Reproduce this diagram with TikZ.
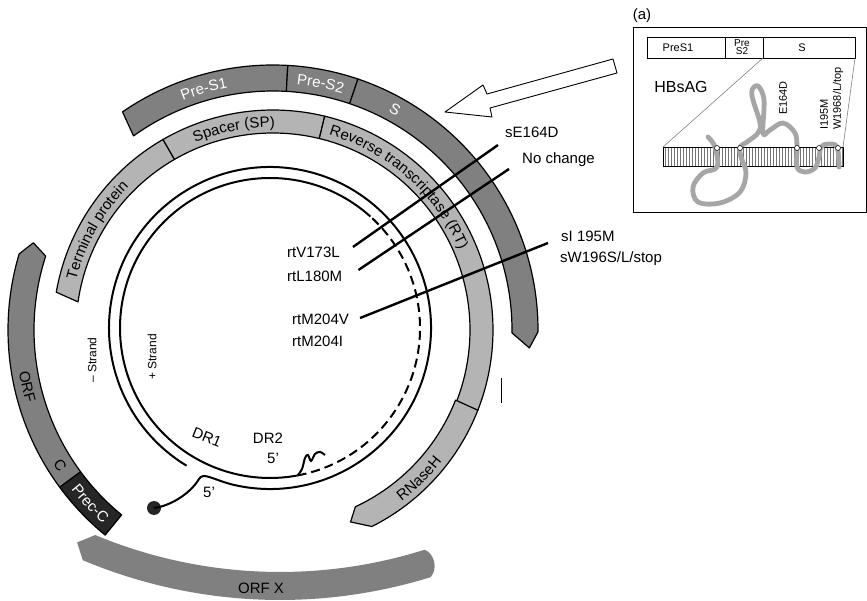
\documentclass[tikz,border=0pt]{standalone}
\usepackage{fontspec}
\setmainfont{Liberation Sans}
\usepackage{xcolor}
\definecolor{orfgray}{HTML}{808080}
\definecolor{polgray}{HTML}{B4B4B4}
\definecolor{chaingray}{HTML}{A6A6A6}
\definecolor{precblack}{HTML}{262626}
\usepackage{tikz}
\usetikzlibrary{calc, decorations.text}

\newcommand{\labfont}{\fontsize{15}{18}\selectfont}
\newcommand{\smallfont}{\fontsize{11}{12}\selectfont}

\begin{document}
\begin{tikzpicture}[x=1pt, y=1pt,
    band/.style={draw=black, line width=1.2pt, line join=round},
    strand/.style={line width=2pt},
    mutline/.style={line width=2.4pt},
    lab/.style={font=\labfont, inner sep=0pt},
    tiny/.style={font=\smallfont, inner sep=0pt},
    arctext/.style={decorate, decoration={text along path, text align=center, text color=#1}},
    arctext/.default=black,
    chain/.style={line width=4.8pt, chaingray, line cap=round, line join=round}]
  \useasboundingbox (0,0) rectangle (867,600);

  % ORF X
  \begin{scope}[shift={(280,509)}]
    \fill[orfgray] (247.4:481) arc[start angle=247.4, end angle=287.5, radius=481]
      .. controls (288.4:487) and (288.4:503) .. (287.2:509)
      arc[start angle=287.2, end angle=247.2, radius=509] -- (245.8:495) -- cycle;
  \end{scope}
  \node[lab] (orfx) at (261,12) {ORF X};

  % genes (outer ring) and polymerase domains (inner ring)
  \begin{scope}[shift={(273,270)}]
    % Pre-S1, Pre-S2, S
    \draw[band, fill=orfgray] (124.6:265) arc[start angle=124.6, end angle=86.8, radius=265]
      -- (86.8:239) arc[start angle=86.8, end angle=125.7, radius=239] -- cycle;
    \draw[band, fill=orfgray] (86.8:265) arc[start angle=86.8, end angle=71.3, radius=265]
      -- (71.3:239) arc[start angle=71.3, end angle=86.8, radius=239] -- cycle;
    \draw[band, fill=orfgray] (71.3:265) arc[start angle=71.3, end angle=-0.4, radius=265]
      -- (-4:257) -- (-0.7:239) arc[start angle=-0.7, end angle=71.3, radius=239] -- cycle;
    \path[arctext=white, decoration={text={|\labfont|Pre-S1}}] (125:246.5) arc[start angle=125, end angle=87, radius=246.5];
    \path[arctext=white, decoration={text={|\labfont|Pre-S2}}] (86.8:246.5) arc[start angle=86.8, end angle=71.3, radius=246.5];
    \path[arctext=white, decoration={text={|\labfont|S}}] (66:246.5) arc[start angle=66, end angle=56, radius=246.5];

    % ORF C and Prec-C
    \draw[band, fill=orfgray] (163.3:265) arc[start angle=163.3, end angle=216.4, radius=265]
      -- (216.4:239) arc[start angle=216.4, end angle=162, radius=239] -- (160:255) -- cycle;
    \draw[band, fill=precblack] (216.4:265) arc[start angle=216.4, end angle=230.7, radius=265]
      -- (230.7:239) arc[start angle=230.7, end angle=216.4, radius=239] -- cycle;
    \path[arctext, decoration={text={|\labfont|ORF}}] (184:257.5) arc[start angle=184, end angle=202, radius=257.5];
    \path[arctext, decoration={text={|\labfont|C}}] (209:257.5) arc[start angle=209, end angle=216, radius=257.5];
    \path[arctext=white, decoration={text={|\labfont|Prec-C}}] (216.4:257.5) arc[start angle=216.4, end angle=230.7, radius=257.5];

    % Terminal protein, spacer, RT, RNaseH
    \draw[band, fill=polgray] (170.1:220) arc[start angle=170.1, end angle=120, radius=220]
      -- (120:197) arc[start angle=120, end angle=171.8, radius=197] -- cycle;
    \draw[band, fill=polgray] (120:220) arc[start angle=120, end angle=76.4, radius=220]
      -- (76.4:197) arc[start angle=76.4, end angle=120, radius=197] -- cycle;
    \draw[band, fill=polgray] (76.4:220) arc[start angle=76.4, end angle=-21.4, radius=220]
      -- (-21.4:197) arc[start angle=-21.4, end angle=76.4, radius=197] -- cycle;
    \draw[band, fill=polgray] (-21.4:220) arc[start angle=-21.4, end angle=-63.3, radius=220]
      -- (-68:207) -- (-65:195) arc[start angle=-65, end angle=-21.4, radius=197] -- cycle;
    \path[arctext, decoration={text={|\labfont|Terminal protein}}] (170:203) arc[start angle=170, end angle=131, radius=203];
    \path[arctext, decoration={text={|\labfont|Spacer (SP)}}] (120:203) arc[start angle=120, end angle=82, radius=203];
    \path[arctext, decoration={text align=left, text={|\labfont|Reverse transcriptase (RT)}}] (74:203) arc[start angle=74, end angle=-20, radius=203];
    \path[arctext, decoration={text={|\labfont|RNaseH}}] (-63:214) arc[start angle=-63, end angle=-28, radius=214];
  \end{scope}

  % DNA strands
  \begin{scope}[shift={(270,272)}]
    \coordinate (tp) at (-116,-180);
    \fill[precblack] (tp) circle (7);
    \draw[strand] (tp) .. controls (-100,-178) and (-80,-166) .. (-71,-151)
      .. controls (-67,-144) and (-58,-151) .. (256:161)
      arc[start angle=256, end angle=598.8, radius=161];
    \draw[strand] (48:150) arc[start angle=48, end angle=280.6, radius=150];
    \draw[strand] plot[smooth, tension=0.6] coordinates {(280.6:150) (32,-141) (35,-130) (38,-127) (41,-133) (45,-126) (50,-124) (55,-127)};
    \draw[strand, dash pattern=on 9pt off 5pt] (-79.4:150) arc[start angle=-79.4, end angle=48, radius=150];
  \end{scope}
  \node[tiny, font=\fontsize{12}{14}\selectfont, rotate=90] (minus) at (92,240) {– Strand};
  \node[tiny, font=\fontsize{12}{14}\selectfont, rotate=90] (plus) at (152,243) {+ Strand};
  \node[lab, rotate=-22] (dr1) at (207,163) {DR1};
  \node[lab] (dr2) at (268,162) {DR2};
  \node[lab] (fiveplus) at (273,142) {5’};
  \node[lab] (fiveminus) at (209,108) {5’};

  % mutations
  \node[lab, anchor=west] (v173) at (287,348) {rtV173L};
  \node[lab, anchor=west] (l180) at (287,324) {rtL180M};
  \node[lab, anchor=west] (m204v) at (292,281) {rtM204V};
  \node[lab, anchor=west] (m204i) at (292,259) {rtM204I};
  \node[lab, anchor=west] (e164) at (505,468) {sE164D};
  \node[lab, anchor=west] (nochg) at (522,440) {No change};
  \node[lab, anchor=west] (i195) at (561,364) {sI 195M};
  \node[lab, anchor=west] (w196) at (560,341) {sW196S/L/stop};
  \draw[mutline] ([shift={(13,5)}]v173.east) -- ([shift={(-7,-13)}]e164.west);
  \draw[mutline] ([shift={(16,6)}]l180.east) -- ([shift={(-13,-9)}]nochg.west);
  \draw[mutline] ([shift={(11,1)}]m204v.east) -- ([shift={(-13,-7)}]i195.west);
  \draw[line width=0.8pt] (501,222) -- (501,197);

  % open arrow to the inset
  \draw[line width=0.9pt, fill=white, line join=round] (445,488) -- (483,515) -- (487,506) -- (613,541)
    -- (617,527) -- (490,492) -- (492,483) -- cycle;

  % inset (a): HBsAg in the membrane
  \node[lab] (tag) at (642,584) {(a)};
  \draw[line width=0.8pt] (633,388) rectangle (866,573);
  \draw[line width=0.6pt] (647,542) rectangle (855,563);
  \draw[line width=0.6pt] (725,542) -- (725,563) (763,542) -- (763,563);
  \node[tiny] (preS1box) at (678,552.5) {PreS1};
  \node[inner sep=0pt, align=center, font=\fontsize{10}{8}\selectfont] (preS2box) at (742,552.5) {Pre\\S2};
  \node[tiny] (sbox) at (802,552.5) {S};
  \node[lab, font=\fontsize{16}{18}\selectfont] (hbsag) at (681,513) {HBsAG};
  \draw[gray, line width=0.6pt] (763,542) -- (663,453) (855,542) -- (843,453);
  \foreach \x in {665,668,...,842}
    \draw[black!55, line width=0.3pt] (\x,434) -- (\x,453);
  \draw[line width=0.5pt] (663,434) rectangle (843,453);
  \draw[chain] plot[smooth, tension=0.6] coordinates {(708,463) (715,453) (717,433) (703,427) (693,413)
    (698,398) (720,397) (740,408) (746,427) (741,443) (740,453) (747,458) (758,467) (760,477)
    (753,500) (752,510) (758,514) (764,500) (763,467) (770,470) (783,477) (795,467) (797,452)
    (797,433) (805,428) (815,432) (819,443) (821,453) (828,456) (837,453) (839,433)};
  \foreach \x in {717,740,797,819,838}
    \draw[fill=white, line width=0.5pt] (\x,452) circle (2.5);
  \node[tiny, rotate=90, anchor=west] (e164in) at (783,485) {E164D};
  \node[tiny, rotate=90, anchor=west] (i195in) at (824,470) {I195M};
  \node[tiny, rotate=90, anchor=west] (w196in) at (838,470) {W1968/L/top};
\end{tikzpicture}
\end{document}
